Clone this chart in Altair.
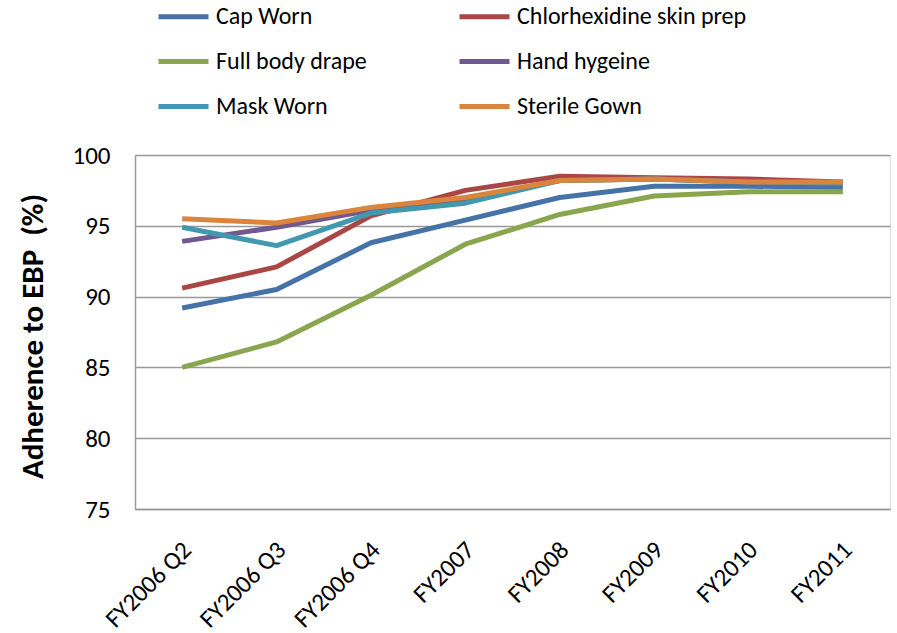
import altair as alt
import pandas as pd

# Reporting periods along the x axis
periods = ["FY2006 Q2", "FY2006 Q3", "FY2006 Q4", "FY2007",
           "FY2008", "FY2009", "FY2010", "FY2011"]

# Adherence (%) per evidence-based practice
cap_worn = [89.2, 90.5, 93.8, 95.4, 97.0, 97.8, 97.8, 97.7]
chlorhexidine = [90.6, 92.1, 95.7, 97.5, 98.5, 98.4, 98.3, 98.1]
full_drape = [85.0, 86.8, 90.1, 93.7, 95.8, 97.1, 97.4, 97.4]
hand_hygeine = [93.9, 94.9, 96.1, 96.8, 98.2, 98.3, 98.1, 98.0]
mask_worn = [94.9, 93.6, 95.9, 96.6, 98.2, 98.3, 98.1, 98.0]
sterile_gown = [95.5, 95.2, 96.3, 97.0, 98.2, 98.3, 98.1, 98.1]

series_names = ["Cap Worn", "Chlorhexidine skin prep", "Full body drape",
                "Hand hygeine", "Mask Worn", "Sterile Gown"]
series_values = [cap_worn, chlorhexidine, full_drape,
                 hand_hygeine, mask_worn, sterile_gown]
series_colors = ["#4572A7", "#AA4643", "#89A54E", "#71588F", "#4198AF", "#DB843D"]

# The legend grid fills column by column, so list entries in that order
legend_order = [0, 2, 4, 1, 3, 5]
legend_names = [series_names[i] for i in legend_order]
legend_colors = [series_colors[i] for i in legend_order]

rows = []
for order, (name, vals) in enumerate(zip(series_names, series_values)):
    for p, v in zip(periods, vals):
        rows.append({"period": p, "practice": name, "value": v, "order": order})
df = pd.DataFrame(rows)

FONT = "Carlito, Liberation Sans Narrow, Liberation Sans, sans-serif"

chart = alt.Chart(df).mark_line(strokeWidth=5, strokeJoin="round").encode(
    x=alt.X("period:N", sort=periods, title=None,
            scale=alt.Scale(paddingInner=0, paddingOuter=0.5),
            axis=alt.Axis(labelAngle=-45, labelAlign="right", labelBaseline="top",
                          labelPadding=28, labelOffset=-4, labelFontSize=25,
                          labelFont=FONT, labelColor="#000000", ticks=False,
                          domainColor="#999999", domainWidth=1.5, grid=False)),
    y=alt.Y("value:Q", title="Adherence to EBP\u00a0 (%)",
            scale=alt.Scale(domain=[75, 100], nice=False, zero=False),
            axis=alt.Axis(values=[75, 80, 85, 90, 95, 100], labelFontSize=25,
                          labelFont=FONT, labelColor="#000000", labelPadding=25,
                          ticks=False, domainColor="#999999", domainWidth=1.5,
                          gridColor="#999999", gridWidth=1.5,
                          titleFont=FONT, titleFontSize=31, titleFontWeight="bold",
                          titleColor="#000000", titleAngle=-90,
                          titleAlign="center", titleBaseline="middle",
                          titleX=-102, titleY=181)),
    color=alt.Color("practice:N", sort=legend_names, title=None,
                    scale=alt.Scale(domain=legend_names, range=legend_colors),
                    legend=alt.Legend(orient="none", legendX=21, legendY=-166,
                                      columns=2, symbolType="stroke",
                                      symbolSize=2500, symbolStrokeWidth=5,
                                      labelFont=FONT, labelFontSize=24,
                                      labelColor="#000000", labelOffset=5,
                                      rowPadding=5, columnPadding=82,
                                      labelLimit=400)),
    order=alt.Order("order:Q"),
    detail="practice:N",
).properties(
    width=755, height=354,
    autosize=alt.AutoSizeParams(type="none"),
    padding={"left": 135, "top": 155, "right": 7, "bottom": 124},
).configure_view(stroke=None).configure(background="white")

chart.save("out.html", embed_options={"renderer": "svg", "actions": False})
